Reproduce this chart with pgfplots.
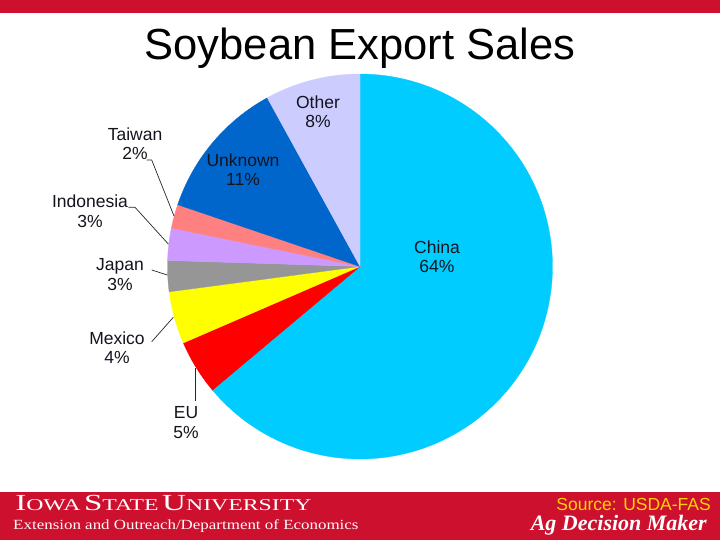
\documentclass[border=0pt]{standalone}
\usepackage{pgfplots}
\pgfplotsset{compat=1.18}
\usepgfplotslibrary{polar}
\usepackage{fontspec}
\setmainfont{Liberation Serif}
\newfontfamily\arial{Liberation Sans}

\definecolor{isured}{RGB}{204,16,46}
\definecolor{srcyellow}{RGB}{255,210,0}
\definecolor{cChina}{RGB}{0,204,255}
\definecolor{cEU}{RGB}{255,0,0}
\definecolor{cMexico}{RGB}{255,255,0}
\definecolor{cJapan}{RGB}{150,150,150}
\definecolor{cIndonesia}{RGB}{204,153,255}
\definecolor{cTaiwan}{RGB}{255,128,128}
\definecolor{cUnknown}{RGB}{0,102,204}
\definecolor{cOther}{RGB}{204,204,255}
\definecolor{lbl}{RGB}{20,20,30}

% shares of soybean export sales (percent)
\def\sChina{63.9}
\def\sEU{4.6}
\def\sMexico{4.4}
\def\sJapan{2.6}
\def\sIndonesia{2.7}
\def\sTaiwan{2.0}
\def\sUnknown{11.8}
\def\sOther{8.0}

\newcommand\pieslice[3]{%
  \addplot[fill=#1, draw=#1, line width=0.3pt, domain=#2:#3, samples=120] {1} -- (axis cs:0,0) -- cycle;}

\newcommand\bigc[1]{{\fontsize{23}{23}\selectfont #1}}
\newcommand\smc[1]{{\fontsize{16.5}{16.5}\selectfont #1}}

\begin{document}
\begin{tikzpicture}
\begin{scope}[x=1pt,y=1pt]
\useasboundingbox (0,0) rectangle (720,540);
\fill[white] (0,0) rectangle (720,540);
\fill[isured] (0,527.3) rectangle (720,540);
\fill[isured] (0,0) rectangle (720,48);
\end{scope}

\pgfmathsetmacro\tA{90}
\pgfmathsetmacro\tB{\tA-3.6*\sChina}
\pgfmathsetmacro\tC{\tB-3.6*\sEU}
\pgfmathsetmacro\tD{\tC-3.6*\sMexico}
\pgfmathsetmacro\tE{\tD-3.6*\sJapan}
\pgfmathsetmacro\tF{\tE-3.6*\sIndonesia}
\pgfmathsetmacro\tG{\tF-3.6*\sTaiwan}
\pgfmathsetmacro\tH{\tG-3.6*\sUnknown}
\pgfmathsetmacro\tI{\tH-3.6*\sOther}

\begin{polaraxis}[at={(360pt,273.5pt)}, anchor=center, scale only axis,
  width=385pt, height=385pt, hide axis, xmin=0, xmax=360, ymin=0, ymax=1, clip=false]
\pieslice{cChina}{\tB}{\tA}
\pieslice{cEU}{\tC}{\tB}
\pieslice{cMexico}{\tD}{\tC}
\pieslice{cJapan}{\tE}{\tD}
\pieslice{cIndonesia}{\tF}{\tE}
\pieslice{cTaiwan}{\tG}{\tF}
\pieslice{cUnknown}{\tH}{\tG}
\pieslice{cOther}{\tI}{\tH}
\end{polaraxis}

\begin{scope}[x=1pt,y=1pt]
% title
\node[anchor=base, inner sep=0, font=\arial\fontsize{43.5}{43.5}\selectfont] at (360,480.7) {Soybean Export Sales};

% slice labels
\begin{scope}[every node/.style={align=center, inner sep=0, text=lbl, font=\arial\fontsize{17.5}{19.5}\selectfont}]
\node at (318,428) {Other\\8\%};
\node at (243,370.5) {Unknown\\11\%};
\node at (437,283) {China\\64\%};
\node at (135,396.5) {Taiwan\\2\%};
\node at (90,328.5) {Indonesia\\3\%};
\node at (120,265.5) {Japan\\3\%};
\node at (117,192.5) {Mexico\\4\%};
\node at (186,117.5) {EU\\5\%};
\end{scope}

% leader lines
\begin{scope}[line width=0.7pt, draw=black!85]
\draw (146.7,380) -- (151.7,380) -- (174,324);
\draw (128.3,332.7) -- (135,332.7) -- (168.3,296);
\draw (151.7,270) -- (167.3,265);
\draw (151.7,198.3) -- (173.3,222.7);
\draw (195.7,171.7) -- (195.7,139);
\end{scope}

% footer
\node[anchor=base west, inner sep=0, text=white, xscale=1.44] at (15,29.3)
  {\bigc{I}\smc{OWA} \bigc{S}\smc{TATE} \bigc{U}\smc{NIVERSITY}};
\node[anchor=base west, inner sep=0, text=white!92!pink, xscale=1.21, font=\fontsize{14}{14}\selectfont] at (13,10)
  {Extension and Outreach/Department of Economics};
\node[anchor=base east, inner sep=0, text=srcyellow, font=\arial\fontsize{17.5}{17.5}\selectfont] at (711,29)
  {Source: USDA-FAS};
\node[anchor=base east, inner sep=0, text=white, font=\fontsize{22}{22}\selectfont\bfseries\itshape] at (707,9.3)
  {Ag Decision Maker};
\end{scope}
\end{tikzpicture}
\end{document}
